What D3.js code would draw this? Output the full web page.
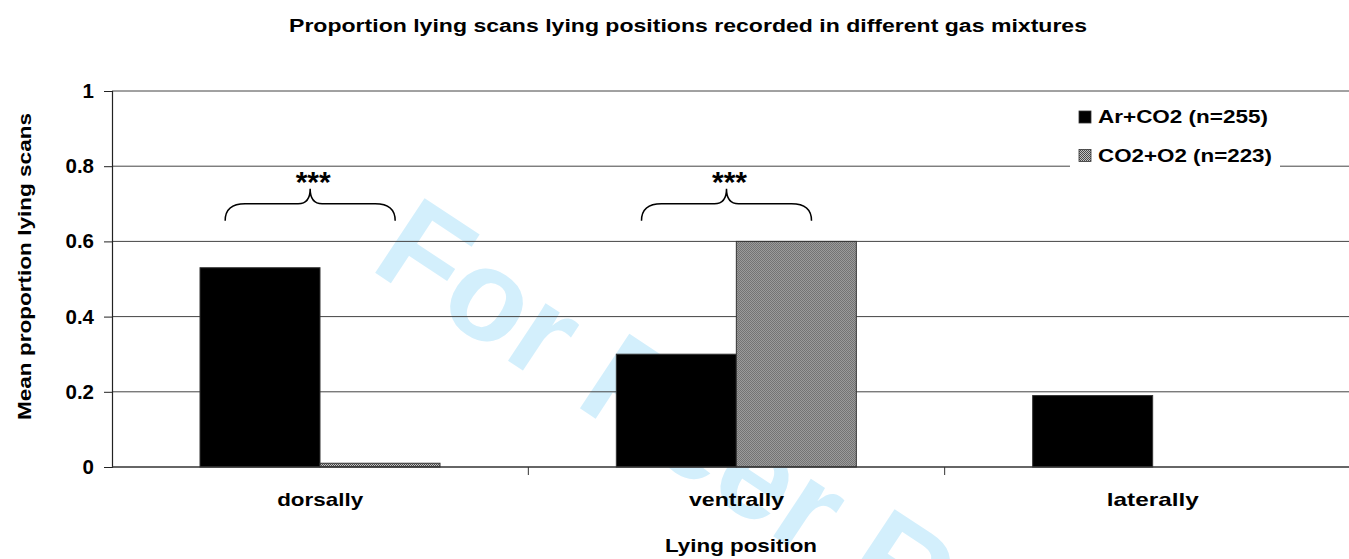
<!DOCTYPE html>
<html>
<head>
<meta charset="utf-8">
<script src="https://cdn.jsdelivr.net/npm/d3@7"></script>
<style>
	body { margin: 0; background: #fff; }
	svg { display: block; font-family: "Liberation Sans", Arial, sans-serif; }
</style>
</head>
<body>
<svg id="chart" width="1349" height="559"></svg>
<script>
const categories = ['dorsally', 'ventrally', 'laterally'];
const seriesNames = ['Ar+CO2 (n=255)', 'CO2+O2 (n=223)'];
const arCo2 = [0.53, 0.30, 0.19];
const co2O2 = [0.01, 0.60, 0];
const yTicks = [0, 0.2, 0.4, 0.6, 0.8, 1];
const sigCategories = ['dorsally', 'ventrally'];
const sigLabels = ['***', '***'];

const svg = d3.select('#chart');

// pattern for the grey series
const defs = svg.append('defs');
const pat = defs.append('pattern')
	.attr('id', 'dots')
	.attr('patternUnits', 'userSpaceOnUse')
	.attr('width', 2).attr('height', 2);
pat.append('rect').attr('width', 2).attr('height', 2).attr('fill', '#c4c4c4');
pat.append('rect').attr('width', 1).attr('height', 1).attr('fill', '#4a4a4a');
pat.append('rect').attr('x', 1).attr('y', 1).attr('width', 1).attr('height', 1).attr('fill', '#4a4a4a');

// watermark, behind everything
svg.append('text')
	.attr('transform', 'translate(368,268) rotate(33.5)')
	.attr('font-size', 130)
	.attr('font-weight', 'bold')
	.attr('fill', '#d3effc')
	.text('For Peer Review');

const x0 = d3.scaleBand().domain(categories).range([112, 1361]);
const x1 = d3.scaleBand().domain(seriesNames).range([88, 328]);
const y = d3.scaleLinear().domain([0, 1]).range([467, 91]);
const right = 1349;

const rows = categories.map((c, i) => ({ cat: c, vals: [arCo2[i], co2O2[i]] }));

// fit a text to a measured width, stretching glyphs a bit
const fit = (sel, w) => sel.attr('textLength', w).attr('lengthAdjust', 'spacingAndGlyphs');

// grid
svg.append('g')
	.selectAll('line')
	.data(yTicks.filter(d => d > 0))
	.enter()
		.append('line')
		.attr('x1', 112).attr('x2', right)
		.attr('y1', d => y(d)).attr('y2', d => y(d))
		.attr('stroke', '#444')
		.attr('stroke-width', 1);

// legend (white box cuts the grid line)
const lg = svg.append('g');
lg.append('rect')
	.attr('x', 1070).attr('y', 96).attr('width', 210).attr('height', 80)
	.attr('fill', '#fff');
seriesNames.forEach((s, i) => {
	const ly = 123 + i * 38.5;
	lg.append('rect')
		.attr('x', 1079).attr('y', ly - 12).attr('width', 12).attr('height', 12)
		.attr('fill', i === 0 ? '#000' : 'url(#dots)')
		.attr('stroke', '#333').attr('stroke-width', 0.8);
	lg.append('text')
		.attr('x', 1098).attr('y', ly)
		.attr('font-size', 18).attr('font-weight', 'bold')
		.text(s)
		.call(fit, i === 0 ? 170 : 174);
});

// bars
const groups = svg.append('g')
	.selectAll('g')
	.data(rows)
	.enter()
		.append('g')
		.attr('transform', d => `translate(${x0(d.cat)},0)`);

groups.selectAll('rect')
	.data(d => d.vals.map((v, i) => ({ s: seriesNames[i], v, i })).filter(e => e.v > 0))
	.enter()
		.append('rect')
		.attr('x', d => x1(d.s))
		.attr('y', d => y(d.v))
		.attr('width', x1.bandwidth())
		.attr('height', d => y(0) - y(d.v))
		.attr('fill', d => d.i === 0 ? '#000' : 'url(#dots)')
		.attr('stroke', '#333')
		.attr('stroke-width', 1);

// y axis
const yAxis = svg.append('g')
	.attr('transform', 'translate(112,0)')
	.call(d3.axisLeft(y).tickValues(yTicks).tickFormat(d => String(d)).tickSize(8).tickPadding(10));
yAxis.select('.domain').attr('stroke', '#222').attr('stroke-width', 1.2);
yAxis.selectAll('.tick line').attr('stroke', '#222');
yAxis.selectAll('.tick text')
	.attr('font-size', 20.5).attr('font-weight', 'bold')
	.attr('font-family', '"Liberation Sans", Arial, sans-serif')
	.attr('fill', '#000');

// x axis
svg.append('line')
	.attr('x1', 112).attr('x2', right)
	.attr('y1', y(0)).attr('y2', y(0))
	.attr('stroke', '#333').attr('stroke-width', 1.6);
svg.append('g')
	.selectAll('line')
	.data(categories.slice(1))
	.enter()
		.append('line')
		.attr('x1', d => x0(d)).attr('x2', d => x0(d))
		.attr('y1', y(0)).attr('y2', y(0) + 8)
		.attr('stroke', '#333');

const labelWidths = { dorsally: 86, ventrally: 95, laterally: 92 };
svg.append('g')
	.selectAll('text')
	.data(categories)
	.enter()
		.append('text')
		.attr('x', d => x0(d) + x0.bandwidth() / 2 - labelWidths[d] / 2)
		.attr('y', 506)
		.attr('font-size', 19).attr('font-weight', 'bold')
		.attr('textLength', d => labelWidths[d])
		.attr('lengthAdjust', 'spacingAndGlyphs')
		.text(d => d);

// significance braces
sigCategories.forEach((c, i) => {
	const cx = x0(c) + x0.bandwidth() / 2 - 10;
	const L = cx - 85, R = cx + 85;
	const yH = y(0.70), yTip = y(0.74), yEnd = y(0.655);
	const p = d3.path();
	p.moveTo(L, yEnd);
	p.quadraticCurveTo(L, yH, L + 20, yH);
	p.lineTo(cx - 12, yH);
	p.quadraticCurveTo(cx, yH, cx, yTip);
	p.quadraticCurveTo(cx, yH, cx + 12, yH);
	p.lineTo(R - 20, yH);
	p.quadraticCurveTo(R, yH, R, yEnd);
	svg.append('path')
		.attr('d', p.toString())
		.attr('fill', 'none')
		.attr('stroke', '#000')
		.attr('stroke-width', 1.5);
	svg.append('text')
		.attr('x', cx + 3).attr('y', y(0.763) + 12)
		.attr('text-anchor', 'middle')
		.attr('font-size', 30).attr('font-weight', 'bold')
		.text(sigLabels[i]);
});

// titles
svg.append('text')
	.attr('x', 289).attr('y', 32)
	.attr('font-size', 18).attr('font-weight', 'bold')
	.text('Proportion lying scans lying positions recorded in different gas mixtures')
	.call(fit, 798);

svg.append('text')
	.attr('x', 665).attr('y', 552)
	.attr('font-size', 19).attr('font-weight', 'bold')
	.text('Lying position')
	.call(fit, 152);

svg.append('text')
	.attr('transform', 'translate(31,420) rotate(-90)')
	.attr('font-size', 19).attr('font-weight', 'bold')
	.text('Mean proportion lying scans')
	.call(fit, 307);
</script>
</body>
</html>
